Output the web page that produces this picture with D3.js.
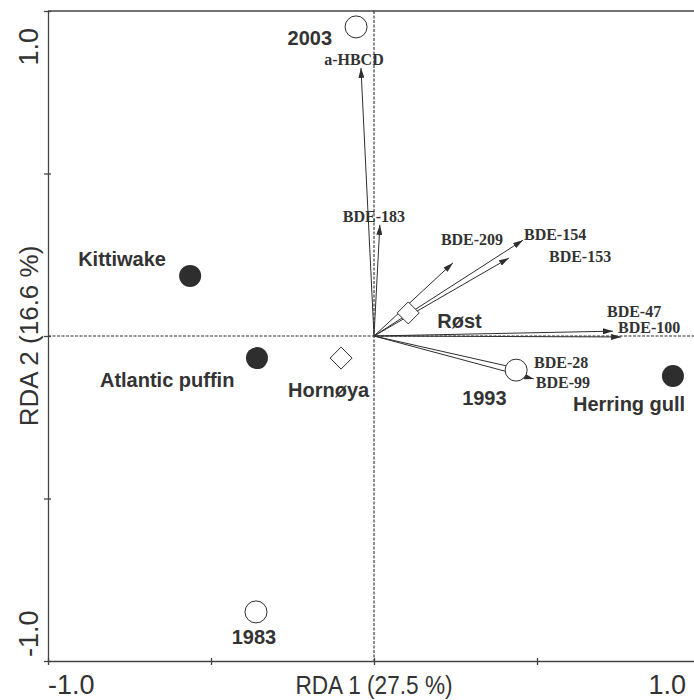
<!DOCTYPE html>
<html>
<head>
<meta charset="utf-8">
<script src="https://cdn.jsdelivr.net/npm/d3@7"></script>
<style>
  body { margin: 0; background: #fff; }
  svg { display: block; }
</style>
</head>
<body>
<div id="rda"></div>
<script>
// sampling years (open circles)
var years = ["1983", "1993", "2003"];
var yearX = [-0.362, 0.436, -0.055];
var yearY = [-0.849, -0.105, 0.951];

// species (filled circles)
var species = ["Kittiwake", "Atlantic puffin", "Herring gull"];
var speciesX = [-0.564, -0.359, 0.917];
var speciesY = [0.185, -0.068, -0.123];

// colonies (diamonds)
var colonies = ["Hornøya", "Røst"];
var colonyX = [-0.101, 0.105];
var colonyY = [-0.068, 0.071];

// compounds (arrows)
var compounds = ["a-HBCD", "BDE-183", "BDE-209", "BDE-154", "BDE-153", "BDE-47", "BDE-100", "BDE-28", "BDE-99"];
var compX = [-0.040, 0.018, 0.242, 0.457, 0.414, 0.733, 0.758, 0.442, 0.490];
var compY = [0.825, 0.342, 0.225, 0.295, 0.240, 0.015, -0.003, -0.100, -0.132];

// axis ticks and labels
var ticks = [-1, -0.5, 0, 0.5, 1];
var tickLabels = ["-1.0", "1.0"];
var xTitle = "RDA 1 (27.5 %)";
var yTitle = "RDA 2 (16.6 %)";

// label placement (pixels, relative to the mark)
var yearOff = [[-2, 32, "middle"], [-54, 35, "start"], [-24, 18, "end"]];
var speciesOff = [[-112, -10, "start"], [-157, 29, "start"], [-100, 35, "start"]];
var colonyOff = [[-53, 39, "start"], [29, 15, "start"]];
var compOff = [[-7, -3, "middle"], [-37, -3, "start"], [-12, -18, "start"], [1, 0, "start"],
               [40, 4, "start"], [-6, -14, "start"], [-3, -4, "start"], [16, -1, "start"], [2, 9, "start"]];

var width = 694, height = 700;
var ink = "#2e2e2e";

var svg = d3.select("#rda")
    .append("svg")
    .attr("width", width)
    .attr("height", height);

var x = d3.scaleLinear().domain([-1, 1]).range([48, 700]);
var y = d3.scaleLinear().domain([-1, 1]).range([661, 11]);

// arrowhead
svg.append("defs").append("marker")
    .attr("id", "head")
    .attr("viewBox", "0 0 10 6")
    .attr("refX", 10).attr("refY", 3)
    .attr("markerWidth", 10).attr("markerHeight", 6)
    .attr("markerUnits", "userSpaceOnUse")
    .attr("orient", "auto")
    .append("path")
    .attr("d", "M0,0 L10,3 L0,6 Z")
    .attr("fill", ink);

// frame
svg.append("line").attr("x1", x(-1)).attr("x2", x(1)).attr("y1", y(1)).attr("y2", y(1))
    .attr("stroke", "#444").attr("stroke-width", 1.3);

// zero lines
svg.append("line").attr("x1", x(0)).attr("x2", x(0)).attr("y1", y(1)).attr("y2", y(-1))
    .attr("stroke", ink).attr("stroke-width", 1.1).attr("stroke-dasharray", "3,1.5");
svg.append("line").attr("x1", x(-1)).attr("x2", x(1)).attr("y1", y(0)).attr("y2", y(0))
    .attr("stroke", ink).attr("stroke-width", 1.1).attr("stroke-dasharray", "3,1.5");

// axes
var xAxis = svg.append("g")
    .attr("transform", "translate(0," + y(-1) + ")")
    .call(d3.axisBottom(x).tickValues(ticks).tickSize(4).tickSizeOuter(0).tickFormat(""));
var yAxis = svg.append("g")
    .attr("transform", "translate(" + x(-1) + ",0)")
    .call(d3.axisLeft(y).tickValues(ticks).tickSize(4).tickSizeOuter(0).tickFormat(""));
[xAxis, yAxis].forEach(function (g) {
    g.select(".domain").attr("stroke", "#444").attr("stroke-width", 1.3);
    g.selectAll(".tick line").attr("stroke", "#444").attr("stroke-width", 1.3);
});
xAxis.selectAll(".tick line").attr("y1", -3);
yAxis.selectAll(".tick line").attr("x1", 3);

// tick labels
var tickFont = "'Liberation Sans', Arial, sans-serif";
var base = 694;
svg.append("text").attr("x", x(-1)).attr("y", base).attr("text-anchor", "start")
    .style("font-family", tickFont).style("font-size", "27px").attr("fill", "#333")
    .text(tickLabels[0]);
svg.append("text").attr("x", x(1) - 14).attr("y", base).attr("text-anchor", "end")
    .style("font-family", tickFont).style("font-size", "27px").attr("fill", "#333")
    .text(tickLabels[1]);
svg.append("text").attr("transform", "translate(38," + (y(1) + 17) + ") rotate(-90)")
    .attr("text-anchor", "end")
    .style("font-family", tickFont).style("font-size", "27px").attr("fill", "#333")
    .text(tickLabels[1]);
svg.append("text").attr("transform", "translate(38," + (y(-1) - 4) + ") rotate(-90)")
    .attr("text-anchor", "start")
    .style("font-family", tickFont).style("font-size", "27px").attr("fill", "#333")
    .text(tickLabels[0]);

// axis titles (the x title is set condensed)
var titleFont = "'Liberation Sans', Arial, sans-serif";
svg.append("text").attr("transform", "translate(" + x(0) + "," + base + ") scale(0.87,1)")
    .attr("text-anchor", "middle")
    .style("font-family", titleFont).style("font-size", "26px").attr("fill", "#333")
    .text(xTitle);
svg.append("text").attr("transform", "translate(38," + y(0) + ") rotate(-90)")
    .attr("text-anchor", "middle")
    .style("font-family", titleFont).style("font-size", "26px").attr("fill", "#333")
    .text(yTitle);

// compound arrows
svg.selectAll(".arrow")
    .data(compounds)
    .enter()
    .append("line")
    .attr("class", "arrow")
    .attr("x1", x(0)).attr("y1", y(0))
    .attr("x2", function (d, i) { return x(compX[i]); })
    .attr("y2", function (d, i) { return y(compY[i]); })
    .attr("stroke", ink).attr("stroke-width", 1)
    .attr("marker-end", "url(#head)");

svg.selectAll(".comp")
    .data(compounds)
    .enter()
    .append("text")
    .attr("class", "comp")
    .attr("x", function (d, i) { return x(compX[i]) + compOff[i][0]; })
    .attr("y", function (d, i) { return y(compY[i]) + compOff[i][1]; })
    .attr("text-anchor", function (d, i) { return compOff[i][2]; })
    .style("font-family", "'Liberation Serif', 'Times New Roman', serif")
    .style("font-weight", "bold").style("font-size", "16px")
    .attr("fill", "#333")
    .text(function (d) { return d; });

// colonies
svg.selectAll(".colony")
    .data(colonies)
    .enter()
    .append("path")
    .attr("class", "colony")
    .attr("transform", function (d, i) { return "translate(" + x(colonyX[i]) + "," + y(colonyY[i]) + ")"; })
    .attr("d", "M0,-11 L11,0 L0,11 L-11,0 Z")
    .attr("fill", "#fff").attr("stroke", ink).attr("stroke-width", 1);

// years
svg.selectAll(".year")
    .data(years)
    .enter()
    .append("circle")
    .attr("class", "year")
    .attr("cx", function (d, i) { return x(yearX[i]); })
    .attr("cy", function (d, i) { return y(yearY[i]); })
    .attr("r", 11)
    .attr("fill", "#fff").attr("stroke", ink).attr("stroke-width", 1);

// species
svg.selectAll(".species")
    .data(species)
    .enter()
    .append("circle")
    .attr("class", "species")
    .attr("cx", function (d, i) { return x(speciesX[i]); })
    .attr("cy", function (d, i) { return y(speciesY[i]); })
    .attr("r", 11)
    .attr("fill", "#2e2e2e");

// bold labels for samples
var boldFont = "'Liberation Sans', Arial, sans-serif";
function addLabels(names, xs, ys, off) {
    svg.selectAll(null)
        .data(names)
        .enter()
        .append("text")
        .attr("x", function (d, i) { return x(xs[i]) + off[i][0]; })
        .attr("y", function (d, i) { return y(ys[i]) + off[i][1]; })
        .attr("text-anchor", function (d, i) { return off[i][2]; })
        .style("font-family", boldFont).style("font-weight", "bold").style("font-size", "20px")
        .attr("fill", "#333")
        .text(function (d) { return d; });
}
addLabels(years, yearX, yearY, yearOff);
addLabels(species, speciesX, speciesY, speciesOff);
addLabels(colonies, colonyX, colonyY, colonyOff);
</script>
</body>
</html>
